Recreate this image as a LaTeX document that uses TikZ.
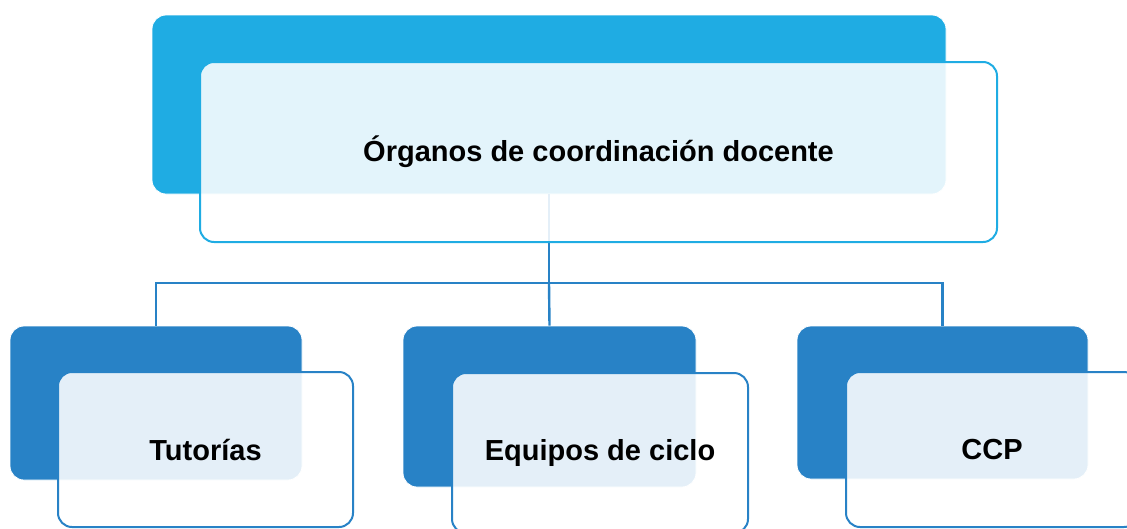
\documentclass[tikz,border=0pt]{standalone}
\usepackage{fontspec}
\setmainfont{Liberation Sans}
\definecolor{topblue}{HTML}{1FACE3}
\definecolor{subblue}{HTML}{2882C6}
\tikzset{
  back/.style = {rectangle, rounded corners=14pt, draw=white, line width=0.8pt, inner sep=0pt},
  front/.style = {rectangle, rounded corners=14pt, fill=white, fill opacity=0.88, text opacity=1,
                  line width=2pt, inner sep=0pt, font=\fontsize{29}{34}\selectfont\bfseries},
  link/.style = {draw=subblue, line width=2.4pt}
}
\begin{document}
\begin{tikzpicture}[x=1pt, y=-1pt]
\useasboundingbox (0,0) rectangle (1127,528);

\node[back, fill=topblue, minimum width=794pt, minimum height=179pt] (orgback) at (549,104.5) {};
\node[back, fill=subblue, minimum width=292pt, minimum height=154pt] (tutback) at (156,403) {};
\node[back, fill=subblue, minimum width=293pt, minimum height=161pt] (equback) at (549.5,406.5) {};
\node[back, fill=subblue, minimum width=291pt, minimum height=153pt] (ccpback) at (942.5,402.5) {};

\coordinate (bus) at (549,283);
\draw[link] (orgback.south) -- (bus) -| (tutback.north);
\draw[link] (bus) -| (ccpback.north);
\draw[link] (bus) -- (equback.north);

\node[front, draw=topblue, minimum width=797pt, minimum height=180pt] (org) at (598.5,152) {Órganos de coordinación docente};
\node[front, draw=subblue, minimum width=295pt, minimum height=155pt] (tut) at (205.5,449.5) {Tutorías};
\node[front, draw=subblue, minimum width=296pt, minimum height=160pt] (equ) at (600,453) {Equipos de ciclo};
\node[front, draw=subblue, minimum width=292pt, minimum height=155pt] (ccp) at (992,449.5) {CCP};

\end{tikzpicture}
\end{document}
